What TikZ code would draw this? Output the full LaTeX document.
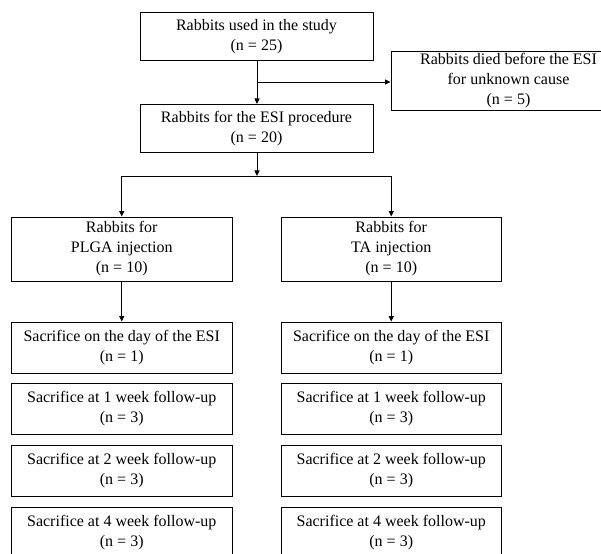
\documentclass[tikz,border=0pt]{standalone}
\usepackage{fontspec}
\setmainfont{Liberation Serif}
\usetikzlibrary{arrows.meta}
\begin{document}
\begin{tikzpicture}[x=1pt,y=-1pt,
  box/.style={draw, line width=0.9pt, align=center, inner sep=0pt,
    font=\fontsize{16}{20}\selectfont},
  wide/.style={box, minimum width=233pt, minimum height=47.6pt},
  side/.style={box, minimum width=220.5pt},
  conn/.style={line width=0.9pt},
  arr/.style={conn, -{Triangle[length=5.5pt,width=5pt]}}]
\useasboundingbox (0,0) rectangle (601,553);
\node[wide] (b1) at (256.5,36.5) {Rabbits used in the study\\(n = 25)};
\node[box, minimum width=235pt, minimum height=59.5pt] (rb) at (508.5,80.75)
  {Rabbits died before the ESI\\for unknown cause\\(n = 5)};
\node[wide] (b2) at (256.5,128.2) {Rabbits for the ESI procedure\\(n = 20)};
\node[side, minimum height=64pt] (pl) at (121.75,249) {Rabbits for\\PLGA injection\\(n = 10)};
\node[side, minimum height=64pt] (ta) at (391.25,249) {Rabbits for\\TA injection\\(n = 10)};
\node[side, minimum height=51pt] (l0) at (121.75,347.5) {Sacrifice on the day of the ESI\\(n = 1)};
\node[side, minimum height=51pt] (l1) at (121.75,408.5) {Sacrifice at 1 week follow-up\\(n = 3)};
\node[side, minimum height=51pt] (l2) at (121.75,471) {Sacrifice at 2 week follow-up\\(n = 3)};
\node[side, minimum height=51pt] (l4) at (121.75,532.5) {Sacrifice at 4 week follow-up\\(n = 3)};
\node[side, minimum height=51pt] (r0) at (391.25,347.5) {Sacrifice on the day of the ESI\\(n = 1)};
\node[side, minimum height=51pt] (r1) at (391.25,408.5) {Sacrifice at 1 week follow-up\\(n = 3)};
\node[side, minimum height=51pt] (r2) at (391.25,471) {Sacrifice at 2 week follow-up\\(n = 3)};
\node[side, minimum height=51pt] (r4) at (391.25,532.5) {Sacrifice at 4 week follow-up\\(n = 3)};
% connectors
\coordinate (br) at ([xshift=0.5pt]b1.south |- 0,82);
\coordinate (sp) at ([xshift=0.5pt]b2.south |- 0,176);
\draw[arr] ([xshift=0.5pt]b1.south) -- ([xshift=0.5pt]b2.north);
\draw[arr] (br) -- (rb.west |- br);
\draw[arr] ([xshift=0.5pt]b2.south) -- (sp);
\draw[conn] (pl.north |- sp) -- (ta.north |- sp);
\draw[arr] (pl.north |- sp) -- (pl.north);
\draw[arr] (ta.north |- sp) -- (ta.north);
\draw[arr] (pl.south) -- (l0.north);
\draw[arr] (ta.south) -- (r0.north);
\end{tikzpicture}
\end{document}
